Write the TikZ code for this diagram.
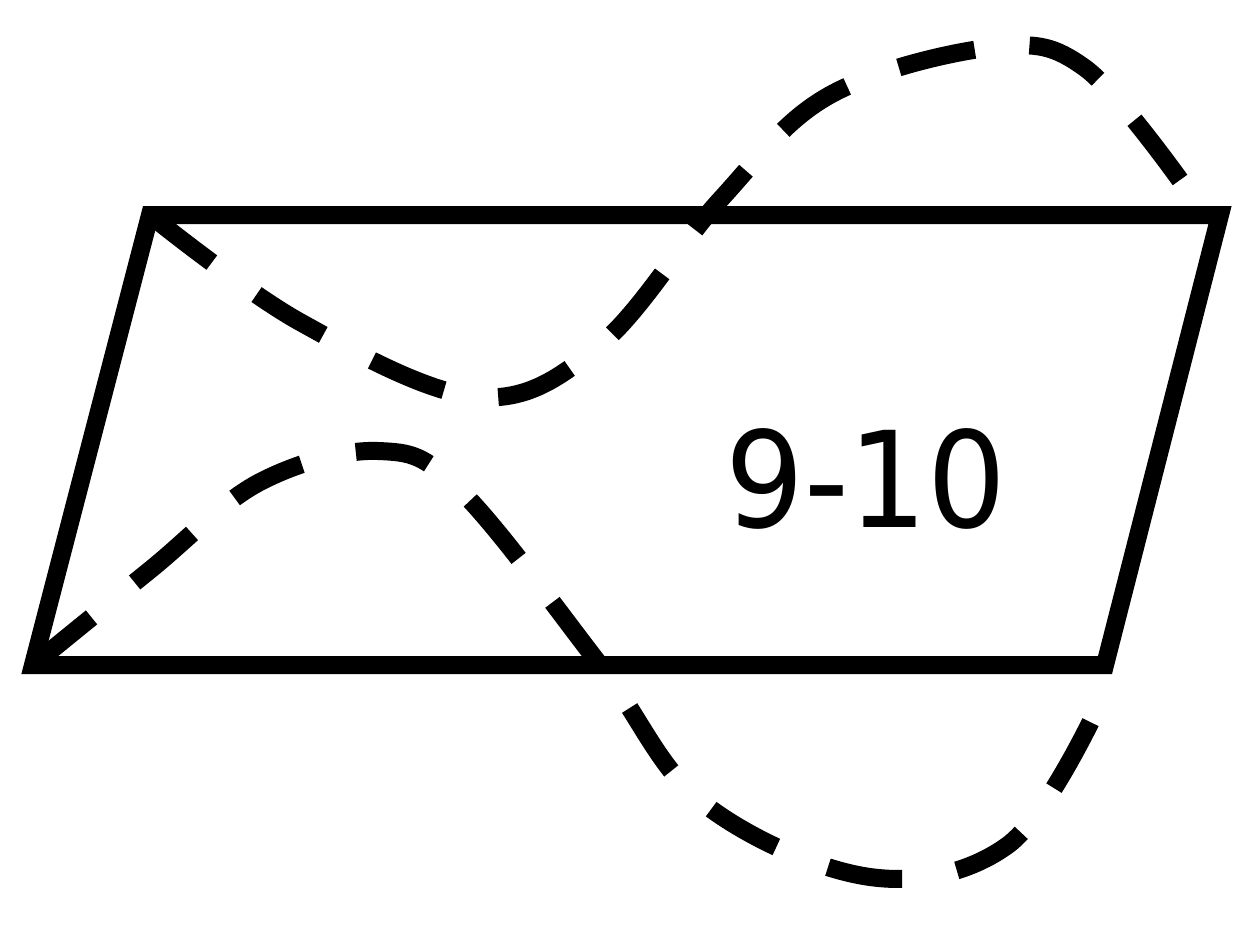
\documentclass[tikz,border=0pt]{standalone}
\usepackage{fontspec}
\newfontfamily\labfont[FakeStretch=0.93]{DejaVu Sans}
\begin{document}
\begin{tikzpicture}[x=0.75pt,y=-0.75pt,
  edge/.style={line width=13.5pt,line join=miter,miter limit=10},
  loopline/.style={line width=13.5pt,line cap=butt},
  loopa/.style={loopline,dash pattern=on 58.5pt off 41.25pt},
  loopb/.style={loopline,dash pattern=on 56.6pt off 41.6pt},
  lab/.style={font=\labfont\fontsize{100}{120}\selectfont,inner sep=0pt,anchor=base}]
\useasboundingbox (0,0) rectangle (1255,924);
\coordinate (tl) at (150,215);
\coordinate (tr) at (1220,215);
\coordinate (br) at (1105,665);
\coordinate (bl) at (33,665);
\draw[edge] (tl) -- (tr) -- (br) -- (bl) -- cycle;
\draw[loopa] plot[smooth,tension=0.6] coordinates {(tl) (300,322) (478,397) (600,345) (720,200) (830,95) (995,47) (1085,68) (1180,180)};
\draw[loopb] plot[smooth,tension=0.6] coordinates {(bl) (150,570) (260,482) (378,451) (460,490) (600,665) (703,803) (870,877) (1008,845) (1095,713)};
\node[lab] (t) at (866,527) {9-10};
\end{tikzpicture}
\end{document}
